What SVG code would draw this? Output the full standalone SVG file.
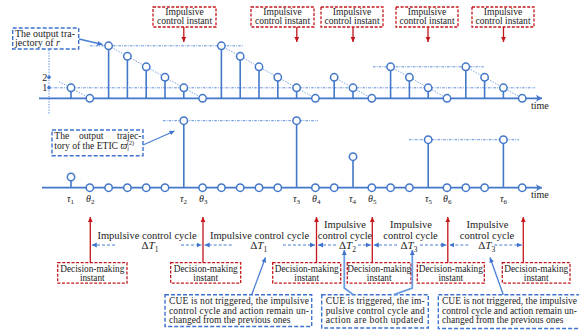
<svg xmlns="http://www.w3.org/2000/svg" width="579" height="330" viewBox="0 0 579 330">
<defs>
<style>
text{font-family:"Liberation Serif","DejaVu Serif",serif;fill:#222;}
.t10{font-size:10px;}
.ti{font-size:9.6px;}
.td{font-size:9.3px;}
.tb{font-size:9.5px;}
.it{font-style:italic;}
.axis{stroke:#4277c9;stroke-width:1.8;fill:none;marker-end:url(#ax);}
.stem{stroke:#4277c9;stroke-width:1.6;}
.pt{fill:#fff;stroke:#4277c9;stroke-width:1.5;}
.diag{stroke:#5e8fdc;stroke-width:0.8;stroke-dasharray:1.5,1.3;fill:none;}
.hd{stroke:#4a7fd6;stroke-width:0.9;stroke-dasharray:2.5,1.2,0.8,1.2;fill:none;}
.vd{stroke:#4a7fd6;stroke-width:1;stroke-dasharray:1.2,1.5;fill:none;}
.rbox{fill:#fff;stroke:#c4161c;stroke-width:1.3;stroke-dasharray:3,1.6;}
.bbox{fill:#fff;stroke:#3e73cf;stroke-width:1.4;stroke-dasharray:4,2;}
.rarr{stroke:#c4161c;stroke-width:1.3;fill:none;marker-end:url(#ra);}
.barr{stroke:#4a7fd6;stroke-width:1.2;stroke-dasharray:3,2;fill:none;marker-end:url(#ba);}
.ptr{stroke:#4a7fd6;stroke-width:1.3;fill:none;marker-end:url(#ba);}
.ptr2{stroke:#6b9be2;stroke-width:1.8;fill:none;marker-end:url(#ba);}
</style>
<marker id="ra" markerWidth="7" markerHeight="7" refX="5" refY="3" orient="auto" markerUnits="userSpaceOnUse"><path d="M0,0.6 L5,3 L0,5.4 z" fill="#c4161c"/></marker>
<marker id="ba" markerWidth="7" markerHeight="7" refX="5" refY="3" orient="auto" markerUnits="userSpaceOnUse"><path d="M0,0.6 L5,3 L0,5.4 z" fill="#3e73cf"/></marker>
<marker id="ax" markerWidth="9" markerHeight="9" refX="6" refY="4" orient="auto" markerUnits="userSpaceOnUse"><path d="M0,0.5 L6,4 L0,7.5 L1.5,4 z" fill="#4277c9"/></marker>
</defs>
<rect width="579" height="330" fill="#fff"/>

<!-- TOP CHART -->
<g id="top-chart">
  <line class="vd" x1="49" y1="50" x2="49" y2="115"/>
  <circle cx="49" cy="77.3" r="1.8" fill="#3e73cf"/>
  <circle cx="49" cy="87.8" r="1.8" fill="#3e73cf"/>
  <text class="t10" x="44.8" y="80.5" text-anchor="middle">2</text>
  <text class="t10" x="44.8" y="91.2" text-anchor="middle">1</text>
  <line class="hd" x1="49" y1="87.8" x2="535" y2="87.8"/>
  <line class="hd" x1="90" y1="45.8" x2="244" y2="45.8"/>
  <line class="hd" x1="373" y1="66.8" x2="485" y2="66.8"/>
  <line class="diag" x1="59" y1="81.5" x2="89.8" y2="98.3"/>
  <line class="diag" x1="108.6" y1="45.8" x2="202.6" y2="98.3"/>
  <line class="diag" x1="221.4" y1="45.8" x2="315.4" y2="98.3"/>
  <line class="diag" x1="334.2" y1="77.3" x2="371.8" y2="98.3"/>
  <line class="diag" x1="390.6" y1="66.8" x2="447" y2="98.3"/>
  <line class="diag" x1="465.8" y1="66.8" x2="522.2" y2="98.3"/>
  <line class="axis" x1="39" y1="98.3" x2="542" y2="98.3"/>
  <text class="t10" x="531" y="108.5">time</text>
  <g class="stem">
    <line x1="71" y1="98.3" x2="71" y2="87.8"/>
    <line x1="108.6" y1="98.3" x2="108.6" y2="45.8"/>
    <line x1="127.4" y1="98.3" x2="127.4" y2="56.3"/>
    <line x1="146.2" y1="98.3" x2="146.2" y2="66.8"/>
    <line x1="165" y1="98.3" x2="165" y2="77.3"/>
    <line x1="183.8" y1="98.3" x2="183.8" y2="87.8"/>
    <line x1="221.4" y1="98.3" x2="221.4" y2="45.8"/>
    <line x1="240.2" y1="98.3" x2="240.2" y2="56.3"/>
    <line x1="259" y1="98.3" x2="259" y2="66.8"/>
    <line x1="277.8" y1="98.3" x2="277.8" y2="77.3"/>
    <line x1="296.6" y1="98.3" x2="296.6" y2="87.8"/>
    <line x1="334.2" y1="98.3" x2="334.2" y2="77.3"/>
    <line x1="353" y1="98.3" x2="353" y2="87.8"/>
    <line x1="390.6" y1="98.3" x2="390.6" y2="66.8"/>
    <line x1="409.4" y1="98.3" x2="409.4" y2="77.3"/>
    <line x1="428.2" y1="98.3" x2="428.2" y2="87.8"/>
    <line x1="465.8" y1="98.3" x2="465.8" y2="66.8"/>
    <line x1="484.6" y1="98.3" x2="484.6" y2="77.3"/>
    <line x1="503.4" y1="98.3" x2="503.4" y2="87.8"/>
  </g>
  <g class="pt">
    <circle cx="71" cy="87.8" r="3.7"/>
    <circle cx="89.8" cy="98.3" r="3.7"/>
    <circle cx="108.6" cy="45.8" r="3.7"/>
    <circle cx="127.4" cy="56.3" r="3.7"/>
    <circle cx="146.2" cy="66.8" r="3.7"/>
    <circle cx="165" cy="77.3" r="3.7"/>
    <circle cx="183.8" cy="87.8" r="3.7"/>
    <circle cx="202.6" cy="98.3" r="3.7"/>
    <circle cx="221.4" cy="45.8" r="3.7"/>
    <circle cx="240.2" cy="56.3" r="3.7"/>
    <circle cx="259" cy="66.8" r="3.7"/>
    <circle cx="277.8" cy="77.3" r="3.7"/>
    <circle cx="296.6" cy="87.8" r="3.7"/>
    <circle cx="315.4" cy="98.3" r="3.7"/>
    <circle cx="334.2" cy="77.3" r="3.7"/>
    <circle cx="353" cy="87.8" r="3.7"/>
    <circle cx="371.8" cy="98.3" r="3.7"/>
    <circle cx="390.6" cy="66.8" r="3.7"/>
    <circle cx="409.4" cy="77.3" r="3.7"/>
    <circle cx="428.2" cy="87.8" r="3.7"/>
    <circle cx="447" cy="98.3" r="3.7"/>
    <circle cx="465.8" cy="66.8" r="3.7"/>
    <circle cx="484.6" cy="77.3" r="3.7"/>
    <circle cx="503.4" cy="87.8" r="3.7"/>
    <circle cx="522.2" cy="98.3" r="3.7"/>
  </g>
</g>

<!-- BOTTOM CHART -->
<g id="bottom-chart">
  <line class="hd" x1="163" y1="120.7" x2="318" y2="120.7"/>
  <line class="hd" x1="409" y1="139.7" x2="519" y2="139.7"/>
  <line class="axis" x1="42" y1="187.7" x2="542" y2="187.7"/>
  <text class="t10" x="531" y="198">time</text>
  <g class="stem">
    <line x1="71" y1="187.7" x2="71" y2="177"/>
    <line x1="183.8" y1="187.7" x2="183.8" y2="120.7"/>
    <line x1="296.6" y1="187.7" x2="296.6" y2="120.7"/>
    <line x1="353" y1="187.7" x2="353" y2="156.7"/>
    <line x1="428.2" y1="187.7" x2="428.2" y2="139.7"/>
    <line x1="503.4" y1="187.7" x2="503.4" y2="139.7"/>
  </g>
  <g class="pt">
    <circle cx="71" cy="177" r="3.7"/>
    <circle cx="183.8" cy="120.7" r="3.7"/>
    <circle cx="296.6" cy="120.7" r="3.7"/>
    <circle cx="353" cy="156.7" r="3.7"/>
    <circle cx="428.2" cy="139.7" r="3.7"/>
    <circle cx="503.4" cy="139.7" r="3.7"/>
    <circle cx="89.8" cy="187.7" r="3.7"/>
    <circle cx="108.6" cy="187.7" r="3.7"/>
    <circle cx="127.4" cy="187.7" r="3.7"/>
    <circle cx="146.2" cy="187.7" r="3.7"/>
    <circle cx="165" cy="187.7" r="3.7"/>
    <circle cx="202.6" cy="187.7" r="3.7"/>
    <circle cx="221.4" cy="187.7" r="3.7"/>
    <circle cx="240.2" cy="187.7" r="3.7"/>
    <circle cx="259" cy="187.7" r="3.7"/>
    <circle cx="277.8" cy="187.7" r="3.7"/>
    <circle cx="315.4" cy="187.7" r="3.7"/>
    <circle cx="334.2" cy="187.7" r="3.7"/>
    <circle cx="371.8" cy="187.7" r="3.7"/>
    <circle cx="390.6" cy="187.7" r="3.7"/>
    <circle cx="409.4" cy="187.7" r="3.7"/>
    <circle cx="447" cy="187.7" r="3.7"/>
    <circle cx="465.8" cy="187.7" r="3.7"/>
    <circle cx="484.6" cy="187.7" r="3.7"/>
    <circle cx="522.2" cy="187.7" r="3.7"/>
  </g>
  <g class="t10 it">
    <text x="67" y="202">τ<tspan font-size="7" font-style="normal" dy="2">1</tspan></text>
    <text x="86" y="202">θ<tspan font-size="7" font-style="normal" dy="2">2</tspan></text>
    <text x="180" y="202">τ<tspan font-size="7" font-style="normal" dy="2">2</tspan></text>
    <text x="199" y="202">θ<tspan font-size="7" font-style="normal" dy="2">3</tspan></text>
    <text x="293" y="202">τ<tspan font-size="7" font-style="normal" dy="2">3</tspan></text>
    <text x="312" y="202">θ<tspan font-size="7" font-style="normal" dy="2">4</tspan></text>
    <text x="349" y="202">τ<tspan font-size="7" font-style="normal" dy="2">4</tspan></text>
    <text x="368" y="202">θ<tspan font-size="7" font-style="normal" dy="2">5</tspan></text>
    <text x="425" y="202">τ<tspan font-size="7" font-style="normal" dy="2">5</tspan></text>
    <text x="443" y="202">θ<tspan font-size="7" font-style="normal" dy="2">6</tspan></text>
    <text x="500" y="202">τ<tspan font-size="7" font-style="normal" dy="2">6</tspan></text>
  </g>
</g>

<!-- CALLOUTS -->
<g id="callout-r">
  <rect class="bbox" x="12.7" y="28" width="66" height="21"/>
  <text class="t10" x="15" y="36.8">The output tra-</text>
  <text class="t10" x="15" y="45.8">jectory of <tspan class="it">r</tspan></text>
</g>
<g id="callout-etic">
  <rect class="bbox" x="52" y="130" width="91" height="25.7"/>
  <text class="ti" x="54.3" y="138.5">The</text>
  <text class="ti" x="79" y="138.5">output</text>
  <text class="ti" x="141.5" y="138.5" text-anchor="end">trajec-</text>
  <text class="ti" x="54.3" y="149">tory of the ETIC <tspan class="it">ϖ</tspan><tspan font-size="6" class="it" dy="2">i</tspan><tspan font-size="6" dx="-1.8" dy="-6">(2)</tspan></text>
</g>

<!-- IMPULSIVE CONTROL INSTANT BOXES -->
<g id="ici-1"><rect class="rbox" x="153" y="7" width="63" height="20"/><text class="ti" x="184.5" y="15.2" text-anchor="middle">Impulsive</text><text class="ti" x="184.5" y="24.4" text-anchor="middle">control instant</text></g>
<g id="ici-2"><rect class="rbox" x="251" y="7" width="63" height="20"/><text class="ti" x="282.5" y="15.2" text-anchor="middle">Impulsive</text><text class="ti" x="282.5" y="24.4" text-anchor="middle">control instant</text></g>
<g id="ici-3"><rect class="rbox" x="321" y="7" width="62" height="20"/><text class="ti" x="352" y="15.2" text-anchor="middle">Impulsive</text><text class="ti" x="352" y="24.4" text-anchor="middle">control instant</text></g>
<g id="ici-4"><rect class="rbox" x="396" y="7" width="62" height="20"/><text class="ti" x="427" y="15.2" text-anchor="middle">Impulsive</text><text class="ti" x="427" y="24.4" text-anchor="middle">control instant</text></g>
<g id="ici-5"><rect class="rbox" x="472" y="7" width="62" height="20"/><text class="ti" x="503" y="15.2" text-anchor="middle">Impulsive</text><text class="ti" x="503" y="24.4" text-anchor="middle">control instant</text></g>

<!-- DECISION-MAKING BOXES -->
<g id="dm-1"><rect class="rbox" x="57.7" y="262.7" width="69.3" height="20.5"/><text class="td" x="92.3" y="271.6" text-anchor="middle">Decision-making</text><text class="td" x="92.3" y="280.8" text-anchor="middle">instant</text></g>
<g id="dm-2"><rect class="rbox" x="170.7" y="262.7" width="70" height="20.5"/><text class="td" x="205.7" y="271.6" text-anchor="middle">Decision-making</text><text class="td" x="205.7" y="280.8" text-anchor="middle">instant</text></g>
<g id="dm-3"><rect class="rbox" x="272.7" y="262.7" width="68" height="20.5"/><text class="td" x="306.7" y="271.6" text-anchor="middle">Decision-making</text><text class="td" x="306.7" y="280.8" text-anchor="middle">instant</text></g>
<g id="dm-4"><rect class="rbox" x="347.3" y="262.7" width="63.7" height="20.5"/><text class="td" x="379.2" y="271.6" text-anchor="middle">Decision-making</text><text class="td" x="379.2" y="280.8" text-anchor="middle">instant</text></g>
<g id="dm-5"><rect class="rbox" x="417.3" y="262.7" width="67" height="20.5"/><text class="td" x="450.8" y="271.6" text-anchor="middle">Decision-making</text><text class="td" x="450.8" y="280.8" text-anchor="middle">instant</text></g>
<g id="dm-6"><rect class="rbox" x="502.3" y="262.7" width="67.7" height="20.5"/><text class="td" x="536.2" y="271.6" text-anchor="middle">Decision-making</text><text class="td" x="536.2" y="280.8" text-anchor="middle">instant</text></g>

<!-- CYCLE LABELS -->
<g id="cycle-1"><text x="147" y="238.5" text-anchor="middle" font-size="10.5">Impulsive control cycle</text><text x="150" y="249" text-anchor="middle" font-size="11">Δ<tspan class="it">T</tspan><tspan font-size="7.5" dy="2.5">1</tspan></text></g>
<g id="cycle-2"><text x="259.5" y="238.5" text-anchor="middle" font-size="10.5">Impulsive control cycle</text><text x="258.7" y="249" text-anchor="middle" font-size="11">Δ<tspan class="it">T</tspan><tspan font-size="7.5" dy="2.5">1</tspan></text></g>
<g id="cycle-3"><text x="345" y="228.3" text-anchor="middle" font-size="10.5">Impulsive</text><text x="345" y="238.5" text-anchor="middle" font-size="10.5">control cycle</text><text x="347.5" y="249" text-anchor="middle" font-size="11">Δ<tspan class="it">T</tspan><tspan font-size="7.5" dy="2.5">2</tspan></text></g>
<g id="cycle-4"><text x="411" y="228.3" text-anchor="middle" font-size="10.5">Impulsive</text><text x="410.5" y="238.5" text-anchor="middle" font-size="10.5">control cycle</text><text x="409" y="249" text-anchor="middle" font-size="11">Δ<tspan class="it">T</tspan><tspan font-size="7.5" dy="2.5">3</tspan></text></g>
<g id="cycle-5"><text x="487.5" y="228.3" text-anchor="middle" font-size="10.5">Impulsive</text><text x="487" y="238.5" text-anchor="middle" font-size="10.5">control cycle</text><text x="486.7" y="249" text-anchor="middle" font-size="11">Δ<tspan class="it">T</tspan><tspan font-size="7.5" dy="2.5">3</tspan></text></g>

<!-- CUE BOXES -->
<g id="cue-a">
  <rect class="bbox" x="165" y="294.7" width="146.7" height="31.8"/>
  <text class="tb" x="169" y="304.3" textLength="140" lengthAdjust="spacing">CUE is not triggered, the impulsive</text>
  <text class="tb" x="169" y="313.5" textLength="140" lengthAdjust="spacing">control cycle and action remain un-</text>
  <text class="tb" x="169" y="322.7">changed from the previous ones</text>
</g>
<g id="cue-b">
  <rect class="bbox" x="321.7" y="294.7" width="106.6" height="33.3"/>
  <text class="tb" x="325.7" y="304.3" textLength="99" lengthAdjust="spacing">CUE is triggered, the im-</text>
  <text class="tb" x="325.7" y="313.5" textLength="99" lengthAdjust="spacing">pulsive control cycle and</text>
  <text class="tb" x="325.7" y="322.7" textLength="97.5" lengthAdjust="spacing">action are both updated</text>
</g>
<g id="cue-c">
  <rect class="bbox" x="438.3" y="294.7" width="146" height="33.8"/>
  <text class="tb" x="442" y="304.3" textLength="135" lengthAdjust="spacing">CUE is not triggered, the impulsive</text>
  <text class="tb" x="442" y="313.5" textLength="135" lengthAdjust="spacing">control cycle and action remain un-</text>
  <text class="tb" x="442" y="322.7">changed from the previous ones</text>
</g>

<!-- CONNECTORS -->
<g id="connectors">
  <line class="rarr" x1="183.8" y1="27" x2="183.8" y2="42"/>
  <line class="rarr" x1="296.8" y1="27" x2="296.8" y2="42"/>
  <line class="rarr" x1="353" y1="27" x2="353" y2="42"/>
  <line class="rarr" x1="428" y1="27" x2="428" y2="42"/>
  <line class="rarr" x1="503.5" y1="27" x2="503.5" y2="42"/>
  <line class="rarr" x1="90.3" y1="262.7" x2="90.3" y2="217"/>
  <line class="rarr" x1="203" y1="262.7" x2="203" y2="217"/>
  <line class="rarr" x1="316.5" y1="262.7" x2="316.5" y2="217"/>
  <line class="rarr" x1="372.3" y1="262.7" x2="372.3" y2="217"/>
  <line class="rarr" x1="447.8" y1="262.7" x2="447.8" y2="217"/>
  <line class="rarr" x1="523.3" y1="262.7" x2="523.3" y2="217"/>
  <line class="barr" x1="115" y1="245" x2="91.8" y2="245"/>
  <line class="barr" x1="181" y1="245" x2="201.5" y2="245"/>
  <line class="barr" x1="231.7" y1="245" x2="204.6" y2="245"/>
  <line class="barr" x1="283" y1="245" x2="315" y2="245"/>
  <line class="barr" x1="336" y1="245" x2="318" y2="245"/>
  <line class="barr" x1="358" y1="245" x2="370.8" y2="245"/>
  <line class="barr" x1="397" y1="245" x2="373.8" y2="245"/>
  <line class="barr" x1="420" y1="245" x2="446.3" y2="245"/>
  <line class="barr" x1="468.3" y1="245" x2="449.3" y2="245"/>
  <line class="barr" x1="494.3" y1="245" x2="521.8" y2="245"/>
  <line class="ptr" x1="79" y1="39" x2="102.5" y2="44.5"/>
  <line class="ptr" x1="143" y1="145" x2="174.5" y2="131"/>
  <line class="ptr" x1="251.7" y1="294.7" x2="265.5" y2="257.5"/>
  <line class="ptr" x1="503.3" y1="294.7" x2="490" y2="257.5"/>
  <path class="ptr2" d="M353.3,294.7 L344.3,288 L344.3,250"/>
  <path class="ptr2" d="M394,294.7 L412.3,288 L412.3,250"/>
</g>
</svg>
